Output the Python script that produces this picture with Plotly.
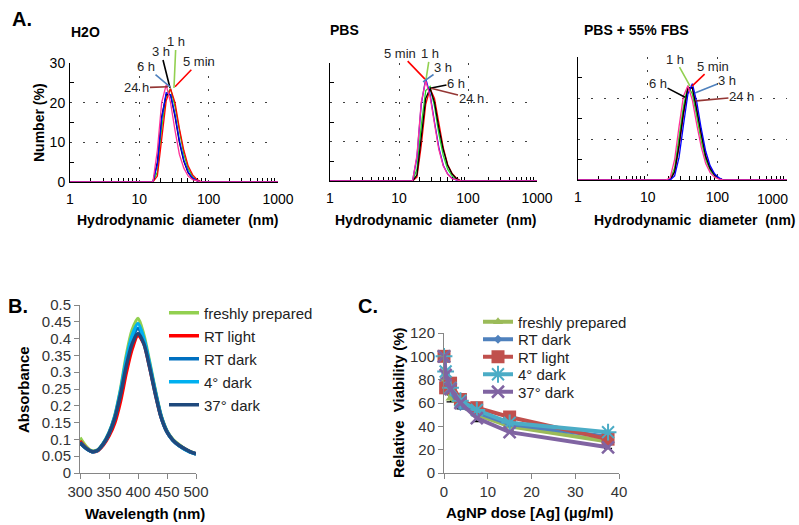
import math
import plotly.graph_objects as go

W, H = 799, 525

# ---------------- Panel A : DLS number distributions ----------------
diam_nm = [1, 13.5, 15.7, 18.2, 21.0, 24.4, 28.2, 32.7, 37.8, 43.8, 50.7, 58.8,
           68.1, 78.8, 91.3, 105.7, 122.4, 141.8, 1000]
time_labels = ["5 min", "1 h", "3 h", "6 h", "24 h"]

h2o_5min = [0, 0, 0, 1.5, 11, 20.5, 23.5, 20, 13.5, 8, 4, 1.8, 0.6, 0, 0, 0, 0, 0, 0]
h2o_1h = [0, 0, 0, 2.5, 13.5, 22, 23.5, 19, 12.5, 7, 3.3, 1.4, 0.4, 0, 0, 0, 0, 0, 0]
h2o_3h = [0, 0, 0, 4.5, 16, 22.5, 22, 17, 10.5, 5.5, 2.5, 1, 0.3, 0, 0, 0, 0, 0, 0]
h2o_6h = [0, 0, 0, 5, 16.5, 22, 22, 16.5, 10, 5.2, 2.3, 0.9, 0.3, 0, 0, 0, 0, 0, 0]
h2o_24h = [0, 0, 0, 8, 20, 24.5, 20, 13, 7, 3.5, 1.5, 0.6, 0.2, 0, 0, 0, 0, 0, 0]

pbs_5min = [0, 0, 0, 1, 9, 19.5, 23.5, 21, 14.5, 8.5, 4.2, 1.9, 0.7, 0, 0, 0, 0, 0, 0]
pbs_1h = [0, 0, 0, 3, 14, 23, 24, 19, 12, 6.5, 3, 1.3, 0.4, 0, 0, 0, 0, 0, 0]
pbs_3h = [0, 0, 0, 6, 19.5, 26, 22, 15, 8.5, 4, 1.8, 0.7, 0.2, 0, 0, 0, 0, 0, 0]
pbs_6h = [0, 0, 0, 1.5, 10.5, 21, 23.5, 20, 13.5, 8, 4, 1.8, 0.6, 0, 0, 0, 0, 0, 0]
pbs_24h = [0, 0, 0, 6.5, 20, 25.5, 21.5, 14.5, 8, 3.8, 1.7, 0.6, 0.2, 0, 0, 0, 0, 0, 0]

fbs_5min = [0, 0, 0, 0, 0, 2, 8, 16, 22, 22.5, 17.5, 11, 6, 3, 1.3, 0.4, 0, 0, 0]
fbs_1h = [0, 0, 0, 0, 0, 3, 10, 18, 23, 21, 15.5, 9.5, 5, 2.4, 1, 0.3, 0, 0, 0]
fbs_3h = [0, 0, 0, 0, 0, 1, 5.5, 13.5, 21, 23.5, 19, 12.5, 7, 3.5, 1.5, 0.5, 0, 0, 0]
fbs_6h = [0, 0, 0, 0, 0, 2, 8.5, 16.5, 22.5, 22.5, 17, 10.5, 5.7, 2.8, 1.2, 0.4, 0, 0, 0]
fbs_24h = [0, 0, 0, 0, 0.5, 5, 13, 20.5, 23, 19.5, 13.5, 8, 4, 1.8, 0.7, 0.2, 0, 0, 0]

a_xticks = [1, 10, 100, 1000]
a_yticks = [0, 10, 20, 30]

# callout anchor points (diameter nm, number %) per panel, order = time_labels
h2o_tip_d = [32.7, 31.6, 27.7, 27.7, 25.9]
h2o_tip_y = [24.0, 23.7, 23.7, 24.0, 24.0]
pbs_tip_d = [23.8, 24.6, 22.3, 28.1, 29.1]
pbs_tip_y = [25.9, 25.7, 25.2, 23.6, 23.6]
fbs_tip_d = [43.3, 40.6, 47.6, 34.4, 50.1]
fbs_tip_y = [22.9, 22.9, 21.2, 20.2, 19.3]

# ---------------- Panel B : UV-vis spectra ----------------
wavelength_nm = [300, 310, 320, 330, 340, 350, 360, 370, 380, 390, 400, 410, 420,
                 430, 440, 450, 460, 470, 480, 490, 500]
uv_series = ["freshly prepared", "RT light", "RT dark", "4° dark", "37° dark"]
uv_fresh = [0.105, 0.08, 0.066, 0.068, 0.088, 0.12, 0.17, 0.25, 0.35, 0.425, 0.46, 0.41,
            0.33, 0.245, 0.17, 0.125, 0.1, 0.085, 0.073, 0.064, 0.057]
uv_rt_light = [0.095, 0.076, 0.064, 0.066, 0.083, 0.11, 0.15, 0.215, 0.3, 0.37, 0.41, 0.385,
               0.315, 0.235, 0.165, 0.122, 0.098, 0.083, 0.072, 0.063, 0.057]
uv_rt_dark = [0.09, 0.074, 0.064, 0.067, 0.086, 0.117, 0.165, 0.24, 0.33, 0.4, 0.43, 0.395,
              0.32, 0.24, 0.167, 0.123, 0.098, 0.083, 0.072, 0.063, 0.057]
uv_4_dark = [0.09, 0.074, 0.064, 0.067, 0.087, 0.119, 0.168, 0.245, 0.34, 0.41, 0.445, 0.4,
             0.325, 0.24, 0.167, 0.122, 0.097, 0.082, 0.071, 0.062, 0.056]
uv_37_dark = [0.09, 0.074, 0.064, 0.067, 0.086, 0.117, 0.163, 0.235, 0.32, 0.385, 0.415, 0.385,
              0.315, 0.235, 0.165, 0.122, 0.098, 0.083, 0.072, 0.063, 0.057]
b_xticks = [300, 350, 400, 450, 500]
b_yticks = [0, 0.05, 0.1, 0.15, 0.2, 0.25, 0.3, 0.35, 0.4, 0.45, 0.5]
b_yticklabels = ["0", "0.05", "0.1", "0.15", "0.2", "0.25", "0.3", "0.35", "0.4", "0.45", "0.5"]

# ---------------- Panel C : viability ----------------
dose_ug_ml = [0, 0.37, 1.5, 3.75, 7.5, 15, 37.5]
via_series = ["freshly prepared", "RT dark", "RT light", "4° dark", "37° dark"]
via_fresh = [100, 80, 64, 58, 50, 40, 27]
via_fresh_err = [0, 0, 3, 3, 6, 4, 6]
via_rt_dark = [100, 85, 70, 57, 52, 42, 31]
via_rt_light = [100, 73, 77, 63, 56, 48, 29]
via_4_dark = [100, 87, 73, 62, 54, 43, 35]
via_37_dark = [100, 84, 72, 60, 47, 35, 22]
c_xticks = [0, 10, 20, 30, 40]
c_yticks = [0, 20, 40, 60, 80, 100, 120]

# ====================================================================
FONT = "Liberation Sans, Arial, sans-serif"
fig = go.Figure()


def px_x(p):
    return p / W


def px_y(p):
    return 1 - p / H


a_curve_colors = {"5 min": "#FF0000", "1 h": "#22DD22", "3 h": "#0000FF",
                  "6 h": "#000000", "24 h": "#FF3399"}
draw_order = ["1 h", "5 min", "6 h", "3 h", "24 h"]
a_data = [
    ("x", "y", dict(zip(time_labels, [h2o_5min, h2o_1h, h2o_3h, h2o_6h, h2o_24h]))),
    ("x2", "y2", dict(zip(time_labels, [pbs_5min, pbs_1h, pbs_3h, pbs_6h, pbs_24h]))),
    ("x3", "y3", dict(zip(time_labels, [fbs_5min, fbs_1h, fbs_3h, fbs_6h, fbs_24h]))),
]
for xa, ya, ser in a_data:
    for lab in draw_order:
        fig.add_trace(go.Scatter(x=diam_nm, y=ser[lab], mode="lines", name=lab,
                                 line=dict(color=a_curve_colors[lab], width=1.3),
                                 xaxis=xa, yaxis=ya, showlegend=False, hoverinfo="skip"))

# Panel B traces
uv_colors = ["#92D050", "#FF0000", "#0070C0", "#00B0F0", "#1F497D"]
uv_vals = [uv_fresh, uv_rt_light, uv_rt_dark, uv_4_dark, uv_37_dark]
b_leg_y = [313, 336, 359, 382, 405]
for i, (name, vals, col) in enumerate(zip(uv_series, uv_vals, uv_colors)):
    lg = "legend" if i == 0 else f"legend{i + 1}"
    fig.add_trace(go.Scatter(x=wavelength_nm, y=vals, mode="lines", name=name,
                             line=dict(color=col, width=3.5, shape="spline", smoothing=0.8),
                             xaxis="x4", yaxis="y4", legend=lg))

# Panel C traces
fig.add_trace(go.Scatter(x=dose_ug_ml, y=via_fresh, mode="markers", marker=dict(size=0.1, color="black"),
                         error_y=dict(type="data", array=via_fresh_err, color="black", thickness=1.3, width=4),
                         xaxis="x5", yaxis="y5", showlegend=False, hoverinfo="skip"))
via_colors = ["#9BBB59", "#4F81BD", "#C0504D", "#4BACC6", "#8064A2"]
via_vals = [via_fresh, via_rt_dark, via_rt_light, via_4_dark, via_37_dark]
via_markers = [dict(symbol="triangle-up", size=9),
               dict(symbol="diamond", size=7),
               dict(symbol="square", size=13),
               dict(symbol="asterisk-open", size=14, line=dict(width=2)),
               dict(symbol="x-thin-open", size=12, line=dict(width=2.5))]
c_leg_y = [322, 339.5, 357, 374.5, 392]
for i, (name, vals, col, mk) in enumerate(zip(via_series, via_vals, via_colors, via_markers)):
    m = dict(mk)
    m["color"] = col
    if "line" in m:
        m["line"] = dict(m["line"], color=col)
    fig.add_trace(go.Scatter(x=dose_ug_ml, y=vals, mode="lines+markers", name=name,
                             line=dict(color=col, width=4), marker=m, cliponaxis=False,
                             xaxis="x5", yaxis="y5", legend=f"legend{i + 6}"))

# -------- axes --------
minor_log = [m * 10 ** e for e in range(3) for m in range(2, 10)]
grid_style = dict(showgrid=True, gridcolor="#404040", gridwidth=1, griddash="2px,11px")


def a_x(dom, anchor, hide_last=False):
    labels = [str(v) for v in a_xticks]
    if hide_last:
        labels[-1] = ""
    return dict(domain=dom, anchor=anchor, type="log", range=[0, 3], tickmode="array",
                tickvals=a_xticks, ticktext=labels, ticks="",
                ticklabelstandoff=4, tickfont=dict(size=14, color="black"), automargin=False,
                showline=True, linecolor="black", linewidth=1, zeroline=False, layer="below traces",
                minor=dict(tickmode="array", tickvals=minor_log, ticks="inside", ticklen=4,
                           tickcolor="black", showgrid=False), **grid_style)


def a_y(dom, anchor, labels):
    return dict(domain=dom, anchor=anchor, range=[0, 30], tickmode="array", tickvals=a_yticks,
                ticks="", showticklabels=labels, tickfont=dict(size=14, color="black"),
                ticklabelstandoff=1, automargin=False,
                showline=True, linecolor="black", linewidth=1, zeroline=False, layer="below traces",
                minor=dict(tickmode="array", tickvals=[5, 15, 25], ticks="inside", ticklen=4,
                           tickcolor="black", showgrid=False), **grid_style)


gray_axis = dict(showline=True, linecolor="#868686", linewidth=1, ticks="outside", ticklen=5,
                 tickcolor="#868686", showgrid=False, zeroline=False, automargin=False,
                 tickfont=dict(size=15, color="#333333"))

layout = dict(
    width=W, height=H, margin=dict(l=0, r=0, t=0, b=0, pad=0, autoexpand=False), autosize=False,
    paper_bgcolor="white", plot_bgcolor="rgba(0,0,0,0)",
    font=dict(family=FONT, color="#222222"),
    xaxis=a_x([px_x(70), px_x(278)], "y"),
    yaxis=a_y([px_y(182), px_y(63)], "x", True),
    xaxis2=a_x([px_x(330), px_x(537)], "y2"),
    yaxis2=a_y([px_y(181), px_y(63)], "x2", False),
    xaxis3=a_x([px_x(578), px_x(787)], "y3", hide_last=True),
    yaxis3=a_y([px_y(180), px_y(57)], "x3", False),
    xaxis4=dict(domain=[px_x(80), px_x(196)], anchor="y4", range=[300, 500], tickmode="array",
                tickvals=b_xticks, **gray_axis),
    yaxis4=dict(domain=[px_y(473), px_y(305)], anchor="x4", range=[0, 0.5], tickmode="array",
                tickvals=b_yticks, ticktext=b_yticklabels, **gray_axis),
    xaxis5=dict(domain=[px_x(444), px_x(619)], anchor="y5", range=[0, 40], tickmode="array",
                tickvals=c_xticks, **gray_axis),
    yaxis5=dict(domain=[px_y(473), px_y(333)], anchor="x5", range=[0, 120], tickmode="array",
                tickvals=c_yticks, **gray_axis),
)

leg_common = dict(xanchor="left", yanchor="middle", bgcolor="rgba(0,0,0,0)", borderwidth=0,
                  font=dict(size=15, color="#222222", family=FONT))
for i, yy in enumerate(b_leg_y):
    key = "legend" if i == 0 else f"legend{i + 1}"
    layout[key] = dict(leg_common, x=px_x(164), y=px_y(yy))
for i, yy in enumerate(c_leg_y):
    layout[f"legend{i + 6}"] = dict(leg_common, x=px_x(478), y=px_y(yy))

annotations = []


def txt(text, x, y, size, xanchor="center", angle=0, weight_color="black"):
    annotations.append(dict(text=text, x=px_x(x), y=px_y(y), xref="paper", yref="paper",
                            showarrow=False, xanchor=xanchor, yanchor="middle", textangle=angle,
                            font=dict(size=size, color=weight_color, family=FONT)))


txt("<b>A.</b>", 10, 19, 20, "left")
txt("<b>B.</b>", 6, 306, 20, "left")
txt("<b>C.</b>", 356, 306, 20, "left")
txt("<b>H2O</b>", 69, 32, 14, "left")
txt("<b>PBS</b>", 328, 30, 14, "left")
txt("<b>PBS + 55% FBS</b>", 582, 30, 14, "left")
txt("<b>Number (%)</b>", 39, 123, 14, angle=-90)
for xl in (75, 333, 592):
    txt("<b>Hydrodynamic  diameter  (nm)</b>", xl, 220, 14, "left")
txt(str(a_xticks[-1]), 790, 199, 14, "right")   # last tick label of the FBS panel, kept inside
txt("<b>Absorbance</b>", 23, 390, 15, angle=-90)
txt("<b>Wavelength (nm)</b>", 145, 513, 15)
txt("<b>Relative  Viability (%)</b>", 398, 403, 15, angle=-90)
txt("<b>AgNP dose [Ag] (µg/ml)</b>", 530, 512, 15)

# leader-line callouts
callouts = [
    ("x", "y", h2o_tip_d, h2o_tip_y,
     [(24, -25), (2, -46), (-9, -36), (-24, -20), (-31, 1)],
     ["#FF0000", "#92D050", "#000000", "#4F81BD", "#943634"]),
    ("x2", "y2", pbs_tip_d, pbs_tip_y,
     [(-25, -26), (4, -26), (20, -14), (26, -5), (40, 10)],
     ["#FF0000", "#92D050", "#4F81BD", "#000000", "#943634"]),
    ("x3", "y3", fbs_tip_d, fbs_tip_y,
     [(21, -20), (-15, -27), (32, -13), (-27, -14), (45, -4)],
     ["#FF0000", "#92D050", "#4F81BD", "#000000", "#943634"]),
]
for xa, ya, tds, tys, offs, cols in callouts:
    for lab, d, yv, (ox, oy), col in zip(time_labels, tds, tys, offs, cols):
        annotations.append(dict(text=lab, x=math.log10(d), y=yv, xref=xa, yref=ya,
                                ax=ox, ay=oy, showarrow=True, arrowhead=0, arrowwidth=1.6,
                                arrowcolor=col, borderpad=0,
                                font=dict(size=13, color="#262626", family=FONT)))

layout["annotations"] = annotations
fig.update_layout(**layout)
fig.write_html("out.html", config={"displayModeBar": False, "staticPlot": True},
               post_script="document.body.style.margin='0';document.body.style.overflow='hidden';")
